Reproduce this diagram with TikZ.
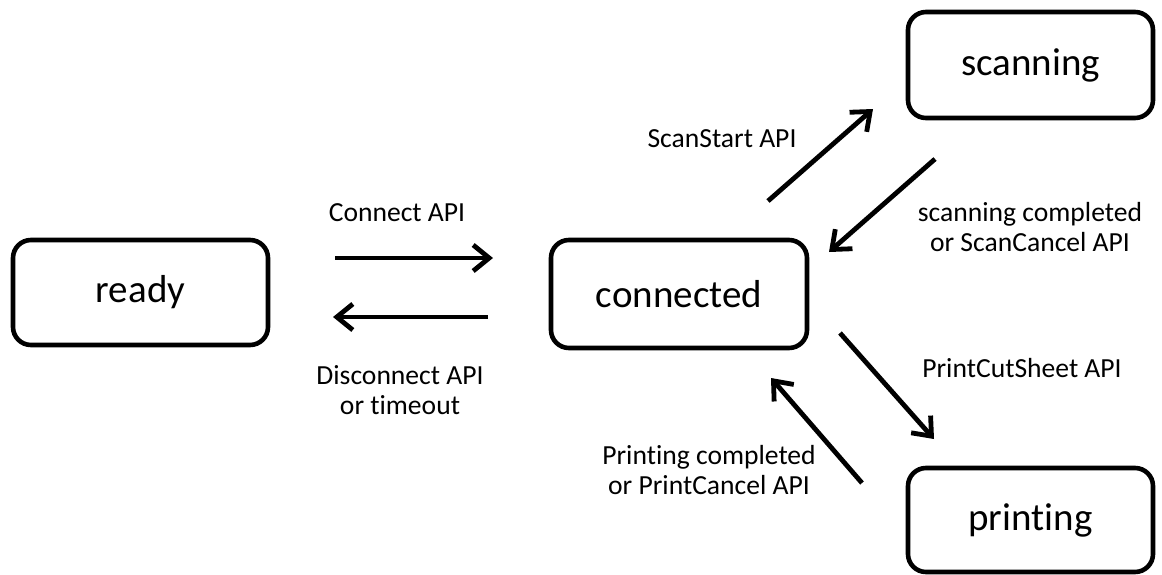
\documentclass[tikz,border=0pt]{standalone}
\usepackage{fontspec}
\setmainfont[Ligatures=NoCommon]{Carlito}
\usetikzlibrary{arrows.meta}

\begin{document}
\begin{tikzpicture}[x=0.5pt,y=-0.5pt,
  state/.style={draw, line width=2.3pt, rounded corners=9pt, align=center,
    inner sep=0pt, font=\fontsize{19.5}{23}\selectfont},
  arr/.style={line width=2.4pt, -{Straight Barb[length=8pt,width=13pt]}},
  lbl/.style={align=center, inner sep=0pt,
    font=\fontsize{13.8}{15}\selectfont}]

  \useasboundingbox (0,0) rectangle (1162,574);

  % states
  \node[state, minimum width=127.5pt, minimum height=52.5pt] (ready) at (140.5,292.5) {ready};
  \node[state, minimum width=128pt, minimum height=54pt] (connected) at (679,294) {connected};
  \node[state, minimum width=122.5pt, minimum height=53pt] (scanning) at (1030.5,65) {scanning};
  \node[state, minimum width=122.5pt, minimum height=52pt] (printing) at (1030.5,520) {printing};

  % free ends of the transition arrows
  \coordinate (c1s) at (335,258);  \coordinate (c1e) at (493,258);
  \coordinate (d1s) at (488,317);  \coordinate (d1e) at (333,317);
  \coordinate (s1s) at (768,201);  \coordinate (s1e) at (873,109);
  \coordinate (s2s) at (935,159);  \coordinate (s2e) at (829,252);
  \coordinate (p1s) at (840,333);  \coordinate (p1e) at (934,439);
  \coordinate (p2s) at (862,483);  \coordinate (p2e) at (771,378);

  % transitions
  \draw[arr] (c1s) -- (c1e);
  \draw[arr] (d1s) -- (d1e);
  \draw[arr] (s1s) -- (s1e);
  \draw[arr] (s2s) -- (s2e);
  \draw[arr] (p1s) -- (p1e);
  \draw[arr] (p2s) -- (p2e);

  % transition labels
  \node[lbl] (lconnect) at (397,213) {Connect API};
  \node[lbl] (ldisconnect) at (400,390) {Disconnect API\\or timeout};
  \node[lbl] (lscanstart) at (722,139) {ScanStart API};
  \node[lbl] (lscandone) at (1030,227) {scanning completed\\or ScanCancel API};
  \node[lbl] (lprintstart) at (1022,368) {PrintCutSheet API};
  \node[lbl] (lprintdone) at (709,470) {Printing completed\\or PrintCancel API};
\end{tikzpicture}
\end{document}
